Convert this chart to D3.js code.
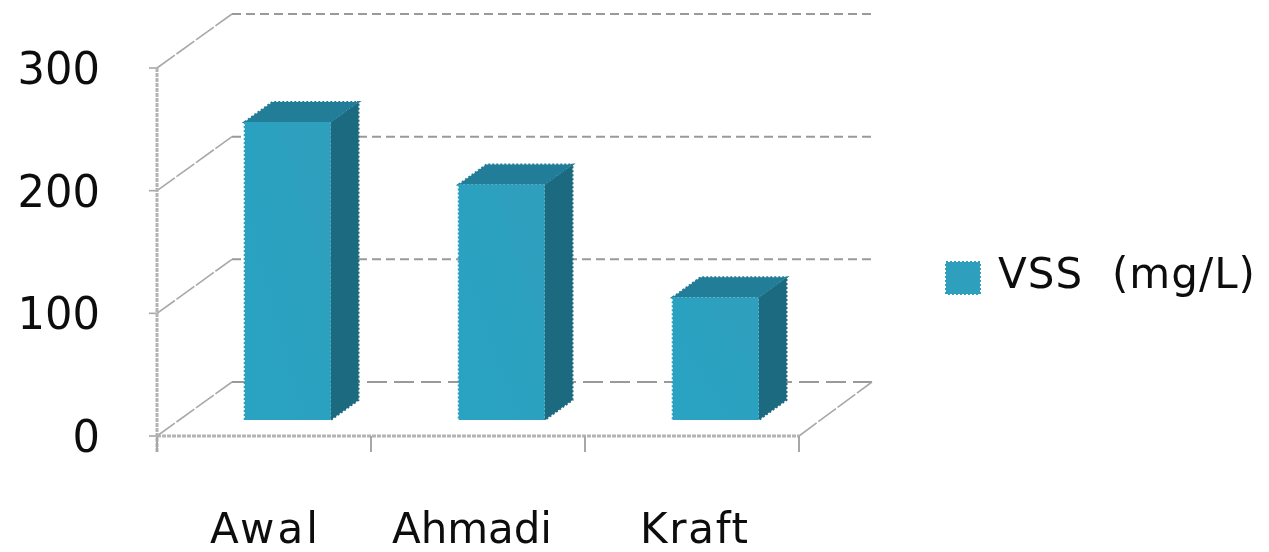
<!DOCTYPE html>
<html><head><meta charset="utf-8">
<script src="https://cdn.jsdelivr.net/npm/d3@7"></script>
<style>html,body{margin:0;background:#fff;overflow:hidden}svg{display:block}
text{font-family:"DejaVu Sans",sans-serif;fill:#111}</style></head><body>
<svg id="c" width="1269" height="552"></svg>
<script>
const categories=["Awal","Ahmadi","Kraft"];
const values=[243,192,100];
const yTicks=[0,100,200,300];
const seriesName="VSS  (mg/L)";
const frontColor="#2e9fbd",sideColor="#1f6a80",topColor="#237d98",gridColor="#9a9a9a",axisColor="#a8a8a8";

const svg=d3.select("#c");
const defs=svg.append("defs");
defs.append("filter").attr("id","soft").append("feGaussianBlur").attr("stdDeviation",0.6);
defs.append("filter").attr("id","softText").append("feGaussianBlur").attr("stdDeviation",0.45);
const y=d3.scaleLinear().domain([0,300]).range([436,68]);
const x=d3.scaleBand().domain(categories).range([157,799]);
const dx=75,dy=-54;
const barFrac=16/54,barDepthFrac=20/54;
const barW=86;
const g=svg.append("g").attr("filter","url(#soft)");
const tg=svg.append("g").attr("filter","url(#softText)");

yTicks.forEach(t=>{
  g.append("line").attr("x1",x.range()[0]+dx).attr("x2",x.range()[1]+dx-2).attr("y1",y(t)+dy).attr("y2",y(t)+dy)
    .attr("stroke",gridColor).attr("stroke-width",2).attr("stroke-dasharray",t===0?"20 7":"9 5");
  g.append("line").attr("x1",x.range()[0]).attr("x2",x.range()[0]+dx).attr("y1",y(t)).attr("y2",y(t)+dy)
    .attr("stroke",axisColor).attr("stroke-width",1.6).attr("stroke-dasharray","22 2");
  g.append("line").attr("x1",x.range()[0]-8).attr("x2",x.range()[0]).attr("y1",y(t)).attr("y2",y(t))
    .attr("stroke",axisColor).attr("stroke-width",1.6);
  const s=String(t);
  tg.append("text").attr("x",100).attr("y",y(t)+16).attr("text-anchor","end")
    .attr("font-size",45).attr("textLength",27.5*s.length).attr("lengthAdjust","spacingAndGlyphs").text(s);
});
g.append("line").attr("x1",x.range()[1]).attr("x2",x.range()[1]+dx-2).attr("y1",y(0)).attr("y2",y(0)+dy)
  .attr("stroke",axisColor).attr("stroke-width",1.6).attr("stroke-dasharray","22 2");
g.append("line").attr("x1",x.range()[0]).attr("x2",x.range()[0]).attr("y1",y(300)).attr("y2",y(0)+16)
  .attr("stroke","#b4b4b4").attr("stroke-width",3).attr("stroke-dasharray","4 1");
g.append("line").attr("x1",x.range()[0]).attr("x2",x.range()[1]).attr("y1",y(0)).attr("y2",y(0))
  .attr("stroke","#b4b4b4").attr("stroke-width",3).attr("stroke-dasharray","4 1");
d3.range(categories.length+1).forEach(i=>{
  const px=x.range()[0]+i*x.step();
  g.append("line").attr("x1",px).attr("x2",px).attr("y1",y(0)).attr("y2",y(0)+16)
    .attr("stroke",axisColor).attr("stroke-width",2);
});

const grad=defs.append("linearGradient").attr("id","front").attr("x1",0).attr("x2",1).attr("y1",1).attr("y2",0);
grad.append("stop").attr("offset",0).attr("stop-color","#2aa3c2");
grad.append("stop").attr("offset",1).attr("stop-color",frontColor);
const labelX=[264,472,694],labelW=[108,160,108];
categories.forEach((c,i)=>{
  const ox=dx*barFrac, oy=dy*barFrac;
  const l=x(c)+x.step()/2+ox-barW/2+1.5, r=l+barW;
  const bt=y(values[i])+oy, bb=y(0)+oy;
  const ddx=dx*barDepthFrac, ddy=dy*barDepthFrac;
  const pts=a=>a.map(p=>p.join(",")).join(" ");
  const b=g.append("g");
  const edge=(col)=>s=>s.attr("stroke",col).attr("stroke-width",2).attr("stroke-dasharray","2 2");
  b.append("polygon").attr("points",pts([[r,bt],[r+ddx,bt+ddy],[r+ddx,bb+ddy],[r,bb]])).attr("fill",sideColor).call(edge(sideColor));
  b.append("polygon").attr("points",pts([[l,bt],[l+ddx,bt+ddy],[r+ddx,bt+ddy],[r,bt]])).attr("fill",topColor).call(edge(topColor));
  b.append("rect").attr("x",l).attr("y",bt).attr("width",r-l).attr("height",bb-bt).attr("fill","url(#front)");
  b.append("line").attr("x1",l).attr("x2",l).attr("y1",bt).attr("y2",bb).call(edge(frontColor));
  tg.append("text").attr("x",labelX[i]).attr("y",543).attr("text-anchor","middle")
    .attr("font-size",42).attr("textLength",labelW[i]).text(c);
});

g.append("rect").attr("x",946).attr("y",262).attr("width",34).attr("height",32).attr("fill",frontColor)
  .attr("stroke",frontColor).attr("stroke-width",2).attr("stroke-dasharray","2 2");
tg.append("text").attr("x",998).attr("y",288).attr("font-size",42).attr("textLength",257)
  .style("white-space","pre").text(seriesName);
</script></body></html>
